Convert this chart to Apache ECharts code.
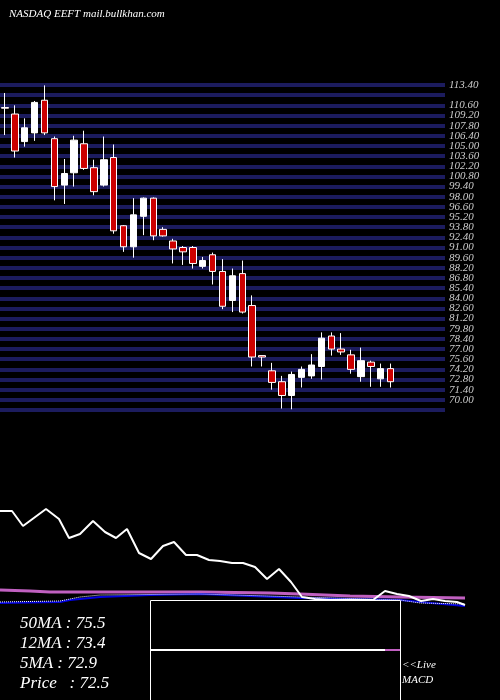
<!DOCTYPE html>
<html><head><meta charset="utf-8">
<script src="https://cdn.jsdelivr.net/npm/echarts@6/dist/echarts.min.js"></script>
<style>html,body{margin:0;background:#000}#c{width:500px;height:700px}</style>
</head><body><div id="c"></div>
<script>
// OHLC as [open, close, low, high]
const candles = [
[110.3,110.2,106.5,112.3],[109.4,104.3,103.4,110.6],[105.6,107.5,104.9,108.8],[106.8,111.0,105.7,111.2],
[111.3,106.8,106.5,113.35],[106.0,99.4,97.5,106.3],[99.6,101.2,97.0,103.2],[101.3,105.8,99.4,106.4],
[105.3,101.9,101.7,107.1],[102.0,98.7,98.2,103.1],[99.6,103.1,99.4,106.3],[103.4,93.3,92.9,105.2],
[94.0,91.1,90.4,94.1],[91.1,95.5,89.6,97.8],[95.3,97.8,92.7,97.9],[97.8,92.6,92.0,97.9],
[93.5,92.6,92.5,93.8],[91.9,90.8,88.8,92.2],[91.0,90.4,88.6,91.2],[91.0,88.8,88.1,91.2],
[88.4,89.2,88.1,89.7],[90.0,87.7,85.9,90.3],[87.7,82.9,82.5,89.4],[83.7,87.1,82.1,88.1],
[87.4,82.1,81.9,89.2],[83.0,75.9,74.6,84.4],[76.1,75.9,74.6,76.1],[74.0,72.4,71.4,75.1],
[72.5,70.6,68.8,73.3],[70.6,73.5,68.7,73.9],[73.1,74.2,71.7,74.6],[73.3,74.8,72.9,76.3],
[74.6,78.5,72.8,79.3],[78.8,77.0,76.1,79.3],[77.0,76.6,76.2,79.2],[76.2,74.2,73.6,76.9],
[73.2,75.4,72.5,77.2],[75.2,74.6,71.8,75.4],[72.9,74.3,71.8,75.0],[74.3,72.5,71.7,75.0]
];
const slots = 45;
const categories = Array.from({length: slots}, (_, i) => String(i + 1));
// lower indicator panel: [x, value]
const whiteLine = [[0,99],[12,99],[23,84],[46,101],[59,91],[69,72],[80,76],[93,89],[105,78],[116,72],[127,81],[139,57],[151,51],[163,64],[174,68],[186,55],[197,55],[209,50],[220,49],[232,47],[243,47],[255,43],[267,31],[279,41],[291,28],[302,13],[315,11],[330,10],[345,10],[360,10],[373,10],[385,19],[397,16],[409,14],[421,9],[433,11],[445,9],[457,8],[465,5]];
const magentaLine = [[0,20],[30,19],[50,18],[100,18],[200,18],[270,17],[300,16],[350,14],[400,13],[465,12]];
const blueLine = [[0,7],[60,8],[70,10],[100,13],[150,15],[200,16],[250,14],[300,12],[350,11],[400,10],[420,8],[465,4]];
const dotLine = [[0,8],[60,9],[80,13],[100,15],[200,16],[300,13],[400,10],[420,7],[465,6]];
const maLabels = ['50MA : 75.5','12MA : 73.4','5MA : 72.9','Price   : 72.5'];

const font = 'Liberation Serif';
const chart = echarts.init(document.getElementById('c'));
chart.setOption({
  backgroundColor: '#000',
  animation: false,
  title: {text: 'NASDAQ EEFT mail.bullkhan.com', left: 4, top: 4,
    textStyle: {color: '#fff', fontSize: 11, fontStyle: 'italic', fontWeight: 'normal', fontFamily: font}},
  grid: [
    {left: 0, right: 55, top: 85, height: 325},
    {left: 0, width: 465, top: 500, height: 110}
  ],
  xAxis: [
    {type: 'category', data: categories, gridIndex: 0, boundaryGap: true, show: false},
    {type: 'value', gridIndex: 1, min: 0, max: 465, show: false}
  ],
  yAxis: [
    {type: 'value', gridIndex: 0, position: 'right', min: 68.6, max: 113.4, interval: 1.4,
      axisLine: {show: false}, axisTick: {show: false},
      splitLine: {show: true, lineStyle: {color: '#1c1c5e', width: 4}},
      axisLabel: {color: '#ccc', fontSize: 11, fontStyle: 'italic', fontFamily: font, margin: 4, showMaxLabel: true,
        formatter: v => v.toFixed(2)}},
    {type: 'value', gridIndex: 1, min: 0, max: 110, show: false}
  ],
  series: [
    {type: 'candlestick', xAxisIndex: 0, yAxisIndex: 0, data: candles, barWidth: 7,
      itemStyle: {color: '#ffffff', color0: '#cc0000', borderColor: '#ffffff', borderColor0: '#ffffff', borderWidth: 1}},
    {type: 'line', xAxisIndex: 1, yAxisIndex: 1, data: magentaLine, symbol: 'none', lineStyle: {color: '#c060c0', width: 3}},
    {type: 'line', xAxisIndex: 1, yAxisIndex: 1, data: blueLine, symbol: 'none', lineStyle: {color: '#0000dd', width: 2}},
    {type: 'line', xAxisIndex: 1, yAxisIndex: 1, data: dotLine, symbol: 'none', lineStyle: {color: '#fff', width: 1, type: 'dotted'}},
    {type: 'line', xAxisIndex: 1, yAxisIndex: 1, data: whiteLine, symbol: 'none', lineStyle: {color: '#fff', width: 2}}
  ],
  graphic: [
    {type: 'rect', shape: {x: 150.5, y: 600.5, width: 250, height: 110}, style: {fill: '#000', stroke: '#fff', lineWidth: 1}, z: 100},
    {type: 'line', shape: {x1: 151, y1: 650, x2: 385, y2: 650}, style: {stroke: '#fff', lineWidth: 2}, z: 101},
    {type: 'line', shape: {x1: 385, y1: 650, x2: 400, y2: 650}, style: {stroke: '#c060c0', lineWidth: 2}, z: 101},
    ...maLabels.map((t, i) => ({type: 'text', left: 20, top: 615 + i * 20, z: 101,
      style: {text: t, fill: '#fff', font: 'italic 17px "Liberation Serif"'}})),
    {type: 'text', left: 402, top: 660, z: 101, style: {text: '<<Live', fill: '#fff', font: 'italic 11px "Liberation Serif"'}},
    {type: 'text', left: 402, top: 675, z: 101, style: {text: 'MACD', fill: '#fff', font: 'italic 11px "Liberation Serif"'}}
  ]
});
</script></body></html>
